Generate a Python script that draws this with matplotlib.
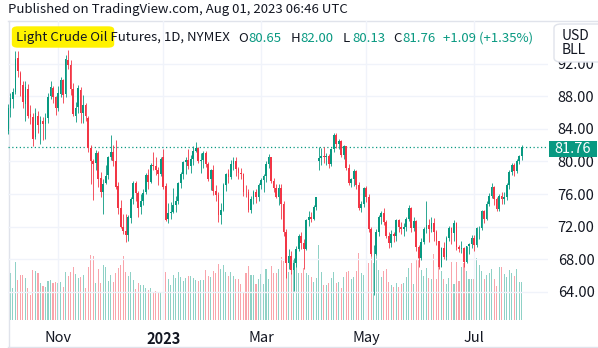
import numpy as np
import pandas as pd
import matplotlib.pyplot as plt
from matplotlib.patches import Rectangle, FancyBboxPatch
from matplotlib.lines import Line2D

plt.rcParams['font.family'] = ['Noto Sans CJK JP', 'DejaVu Sans']

# NYMEX CL front month, daily bars Oct 2022 - Jul 2023
holidays = ['2022-11-24', '2022-12-26', '2023-01-02', '2023-01-16', '2023-02-20',
            '2023-04-07', '2023-05-29', '2023-06-19', '2023-07-04']
dates = pd.bdate_range('2022-10-03', '2023-07-31', freq='C', holidays=holidays)

opens = [
    79.9, 83.7, 86.5, 87.6, 88.5, 92.7, 90.9, 89.4, 87.0, 88.9, 85.8, 85.4, 83.0, 85.6, 84.6, 85.0, 84.6, 85.3, 88.0, 89.0, 87.9,
    86.6, 88.3, 90.0, 88.3, 92.4, 91.8, 88.9, 85.6, 86.7, 88.8, 85.9, 86.9, 85.3, 81.7, 80.0, 79.8, 81.0, 78.0, 76.2, 77.3, 78.3,
    80.6, 81.2, 80.0, 77.0, 74.3, 72.0, 71.5, 71.0, 73.1, 75.4, 77.3, 76.1, 74.4, 75.2, 76.2, 78.3, 77.5, 79.6, 79.5, 79.0, 78.4,
    80.6, 77.0, 72.9, 73.7, 73.8, 74.6, 75.1, 77.4, 78.4, 79.9, 80.2, 79.5, 80.3, 81.3, 81.6, 80.1, 80.2, 81.0, 79.7, 77.9,
    78.9, 76.4, 75.9, 73.4, 74.1, 77.1, 78.5, 78.1, 79.7, 80.1, 79.1, 78.6, 78.5, 76.3, 76.2, 74.0, 75.4, 76.3, 75.7,
    77.1, 77.7, 78.2, 79.7, 80.5, 77.6, 76.7, 75.7, 76.7, 74.8, 71.3, 67.6, 68.4, 66.7, 67.6, 69.3, 70.9, 70.0, 69.3, 72.8, 73.2, 73.0, 74.4,
    80.1, 80.4, 80.7, 80.6, 80.7, 79.7, 81.5, 83.3, 82.2, 82.5, 80.8, 81.9, 79.2, 77.4, 77.9, 78.8, 77.1, 74.3, 74.8,
    76.7, 75.7, 71.7, 68.6, 68.6, 71.3, 73.2, 73.7, 72.6, 70.9, 70.0, 71.1, 70.9, 72.8, 71.9, 71.7, 72.0, 72.9, 74.3, 71.8, 72.7, 69.5,
    68.1, 70.1, 71.7, 72.2, 71.7, 72.5, 71.3, 70.2, 67.1, 69.4, 68.3, 70.6, 71.8, 71.2, 72.5, 69.5, 69.2, 69.4, 67.7, 69.6, 69.9,
    70.6, 69.8, 71.8, 71.8, 73.9, 73.0, 74.8, 75.8, 76.9, 75.4, 74.2, 75.8, 75.4, 75.6, 77.1, 78.7, 79.6, 78.8, 80.1, 80.65,
]
highs = [
    84.0, 87.0, 88.4, 89.0, 93.6, 93.5, 91.1, 89.9, 89.9, 89.5, 86.9, 85.9, 86.5, 86.2, 85.6, 85.5, 86.0, 88.4, 89.9, 89.2, 88.0,
    89.3, 90.3, 90.1, 93.0, 93.7, 92.4, 89.6, 87.3, 89.4, 89.1, 88.2, 87.2, 85.6, 82.0, 80.3, 81.4, 81.3, 78.7, 77.9, 79.6, 80.7,
    83.3, 82.0, 82.6, 77.5, 75.3, 73.5, 73.6, 73.4, 75.7, 77.6, 77.6, 76.4, 76.0, 76.6, 78.6, 79.1, 79.8, 81.2, 80.6, 79.3, 80.5,
    81.5, 77.4, 74.9, 75.0, 76.7, 75.8, 77.5, 78.7, 80.1, 80.6, 81.5, 80.8, 81.9, 82.4, 81.8, 81.0, 81.3, 81.3, 79.9, 79.1,
    79.6, 77.1, 76.3, 74.9, 77.4, 78.6, 79.1, 80.2, 80.6, 80.5, 79.3, 79.2, 78.6, 77.1, 76.6, 75.8, 76.5, 76.6, 77.4,
    78.0, 78.5, 80.1, 80.9, 80.6, 78.0, 77.2, 77.2, 77.2, 75.1, 71.7, 69.2, 69.0, 68.1, 69.6, 71.1, 71.4, 70.5, 73.0, 73.9, 73.8, 74.7, 75.7,
    81.8, 81.6, 81.8, 81.0, 80.9, 81.6, 83.5, 83.5, 82.8, 82.6, 82.0, 81.9, 79.7, 78.0, 79.1, 79.0, 77.5, 75.1, 76.9,
    77.0, 76.0, 72.0, 69.8, 71.7, 73.4, 73.9, 74.3, 72.8, 71.4, 71.6, 71.4, 73.0, 72.9, 72.6, 72.4, 73.2, 74.7, 74.4, 73.2, 72.8, 69.8,
    70.6, 72.0, 75.1, 72.9, 73.2, 73.1, 71.6, 70.3, 69.5, 70.1, 70.8, 72.1, 71.9, 72.8, 72.6, 69.8, 70.2, 69.5, 69.6, 70.0, 71.0,
    71.0, 72.0, 72.1, 74.0, 74.0, 75.1, 76.1, 77.3, 77.0, 75.7, 76.0, 76.3, 76.2, 77.3, 78.9, 79.8, 79.8, 80.3, 80.8, 82.00,
]
lows = [
    79.8, 83.4, 85.5, 86.5, 88.3, 90.4, 88.0, 86.5, 85.0, 85.3, 84.6, 81.9, 82.7, 83.5, 82.1, 82.6, 82.8, 84.7, 87.6, 87.2, 85.7,
    86.2, 87.9, 87.2, 87.9, 91.3, 88.1, 85.6, 84.9, 85.9, 84.7, 84.7, 85.0, 81.1, 77.2, 75.3, 79.0, 76.9, 75.7, 73.6, 77.2, 77.9,
    80.2, 79.5, 76.6, 73.6, 71.8, 71.1, 70.1, 70.3, 72.4, 74.8, 75.2, 73.2, 73.6, 74.6, 76.0, 76.6, 77.4, 78.9, 78.3, 77.1, 78.2,
    76.6, 72.7, 72.5, 72.9, 73.7, 73.8, 74.8, 76.8, 77.9, 78.5, 79.1, 78.6, 79.6, 81.1, 79.8, 78.6, 79.2, 79.3, 77.6, 76.5,
    75.9, 75.2, 72.6, 72.3, 73.9, 76.4, 77.3, 77.9, 78.9, 78.2, 77.9, 77.8, 75.8, 75.6, 73.8, 73.7, 74.8, 74.9, 75.1,
    76.6, 76.2, 77.5, 79.2, 77.4, 76.3, 75.5, 74.7, 73.0, 70.9, 65.7, 66.8, 66.2, 64.1, 67.1, 69.0, 69.2, 66.8, 69.1, 72.1, 72.6, 72.8, 74.1,
    79.0, 79.6, 79.8, 79.6, 79.2, 79.5, 81.2, 81.7, 81.5, 80.5, 80.3, 78.9, 77.1, 76.9, 77.0, 76.6, 74.0, 73.8, 74.4,
    75.0, 71.4, 68.4, 63.6, 68.5, 70.9, 72.3, 72.2, 70.6, 69.4, 69.5, 70.1, 70.2, 71.4, 71.1, 70.8, 71.5, 72.7, 71.3, 71.5, 69.0, 67.0,
    67.9, 69.9, 71.2, 70.1, 71.3, 70.3, 69.8, 66.8, 67.1, 68.0, 67.9, 70.3, 69.9, 70.3, 69.1, 68.9, 68.8, 67.1, 67.6, 68.6, 69.4,
    69.0, 69.5, 70.5, 71.6, 72.4, 72.8, 74.5, 75.5, 74.6, 73.9, 73.9, 74.8, 74.8, 75.3, 76.6, 78.3, 78.2, 78.6, 79.7, 80.13,
]
closes = [
    83.6, 86.5, 87.8, 88.5, 92.6, 91.1, 89.4, 87.3, 89.1, 85.6, 85.5, 82.8, 86.0, 84.5, 85.1, 84.6, 85.3, 87.9, 89.1, 87.9, 86.5,
    88.4, 90.0, 88.2, 92.6, 91.8, 88.9, 85.8, 86.5, 89.0, 85.9, 86.9, 85.6, 81.6, 80.1, 79.7, 81.0, 77.9, 76.3, 77.2, 78.2, 80.6,
    81.2, 80.0, 76.9, 74.3, 72.0, 71.5, 71.0, 73.2, 75.4, 77.3, 76.1, 74.3, 75.2, 76.1, 78.3, 77.5, 79.6, 79.5, 79.0, 78.4, 80.3,
    76.9, 72.8, 73.7, 73.8, 74.6, 75.1, 77.4, 78.4, 79.9, 80.2, 79.5, 80.3, 81.3, 81.6, 80.1, 80.2, 81.0, 79.7, 77.9, 78.9,
    76.4, 75.9, 73.4, 74.1, 77.1, 78.5, 78.1, 79.7, 80.1, 79.1, 78.6, 78.5, 76.3, 76.2, 74.0, 75.4, 76.3, 75.7, 77.1,
    77.7, 78.2, 79.7, 80.5, 77.6, 76.7, 75.7, 76.7, 74.8, 71.3, 67.6, 68.4, 66.7, 67.6, 69.3, 70.9, 70.0, 69.3, 72.8, 73.2, 73.0, 74.4, 75.7,
    80.4, 80.7, 80.6, 80.7, 79.7, 81.5, 83.3, 82.2, 82.5, 80.8, 81.9, 79.2, 77.4, 77.9, 78.8, 77.1, 74.3, 74.8, 76.8,
    75.7, 71.7, 68.6, 68.6, 71.3, 73.2, 73.7, 72.6, 70.9, 70.0, 71.1, 70.9, 72.8, 71.9, 71.7, 72.0, 72.9, 74.3, 71.8, 72.7, 69.5, 68.1,
    70.1, 71.7, 72.2, 71.7, 72.5, 71.3, 70.2, 67.1, 69.4, 68.3, 70.6, 71.8, 71.2, 72.5, 69.5, 69.2, 69.4, 67.7, 69.6, 69.9, 70.6,
    69.8, 71.8, 71.8, 73.9, 73.0, 74.8, 75.8, 76.9, 75.4, 74.2, 75.8, 75.4, 75.6, 77.1, 78.7, 79.6, 78.8, 80.1, 80.67, 81.76,
]
# volume, thousand contracts
volumes = [
    300, 330,
    235, 160, 290, 200, 225, 225, 210, 160, 125, 250, 245, 235, 185, 170, 165, 195, 200, 185, 190, 185,
    190, 165, 240, 220, 240, 265, 230, 210, 215, 225, 160, 265, 325, 320, 185, 255, 185, 275, 265, 195,
    225, 190, 235, 260, 275, 320, 240, 220, 240, 200,
    155, 185, 175, 175, 160, 150, 160, 140, 145, 140, 140, 235, 240, 205, 175, 225, 210, 240, 215, 195,
    210, 220, 220, 210, 200, 195, 200, 200, 250, 220, 215, 245, 235, 280, 255, 275, 240, 220, 240, 220,
    205, 205, 180, 140, 235, 270, 225, 225, 180, 205, 230, 180, 255, 205,
    270, 235, 235, 255, 315, 295, 320, 240, 235, 300, 315, 235, 235, 260, 235, 225, 215, 190, 210, 375,
    240, 175, 175, 185, 210, 240, 185, 190, 160, 215, 240, 245, 205, 215, 245, 335, 235, 225, 150, 285,
    330, 285, 335, 250, 215, 245, 255, 190, 175, 165, 185, 165, 180, 185,
    215, 260, 285, 180, 300, 335, 250, 220, 260, 210, 205, 330, 205, 310, 245, 205, 180, 210, 290, 180,
    290, 195, 265, 285, 245, 205, 205, 205, 310, 275, 245, 205, 225, 235, 255, 205, 170, 265, 265, 230,
    215, 250, 235, 220, 255, 190, 190,
]

last_price = 81.76
tick_prices = [64, 68, 72, 76, 80, 84, 88, 92]
tick_dates = ['2022-11-01', '2023-01-03', '2023-03-01', '2023-05-01', '2023-07-03']
tick_names = ['Nov', '2023', 'Mar', 'May', 'Jul']

UP = '#089981'
DOWN = '#f23645'
TEXT = '#131722'
GRID = '#f0f3fa'
FRAME = '#e0e3eb'

o = np.array(opens)
h = np.array(highs)
l = np.array(lows)
c = np.array(closes)
v = np.array(volumes)
idx = np.arange(len(dates))
up = c >= o
cols = np.where(up, UP, DOWN)

W, H = 598, 348
fig = plt.figure(figsize=(W / 100, H / 100), dpi=100)
fig.patch.set_facecolor('white')

rect = [8 / W, (H - 320) / H, 540 / W, 299 / H]
vax = fig.add_axes(rect, zorder=1)
ax = fig.add_axes(rect, zorder=2)
ax.patch.set_visible(False)

# volume pane underneath the candles
vax.bar(idx, v, width=0.42, color=cols, alpha=0.45, linewidth=0)
vax.set_ylim(0, 1495)
vax.set_axis_off()

# candles
ax.vlines(idx, l, h, colors=cols, linewidth=0.6, zorder=3)
body = np.maximum(np.abs(c - o), 0.08)
ax.bar(idx, body, bottom=np.minimum(o, c), width=0.72, color=cols, linewidth=0, zorder=4)

ax.axhline(last_price, color=UP, linestyle=(0, (1, 2)), linewidth=0.9, zorder=2)

x_left = (8 - 5.4) / 2.506
x_right = (548 - 5.4) / 2.506
for a in (ax, vax):
    a.set_xlim(x_left, x_right)
ax.set_ylim(60.55, 97.23)

tick_idx = [dates.get_loc(pd.Timestamp(d)) for d in tick_dates]
ax.set_xticks(tick_idx)
ax.set_xticklabels(tick_names)
ax.set_yticks(tick_prices)
ax.set_yticklabels([f'{p:.2f}' for p in tick_prices])
ax.yaxis.tick_right()
ax.tick_params(axis='y', length=0, pad=7, labelsize=10.5, labelcolor=TEXT)
ax.tick_params(axis='x', length=0, pad=8, labelsize=10.5, labelcolor=TEXT)
ax.get_xticklabels()[1].set_fontweight('bold')
ax.grid(True, color=GRID, linewidth=1, zorder=0)
ax.set_axisbelow(True)
for s in ax.spines.values():
    s.set_visible(False)


def px(x, y):
    return x / W, 1 - y / H


# frame lines
for (x0, y0), (x1, y1) in [((8.5, 21), (8.5, 347)), ((8, 21), (598, 21)), ((8, 347), (598, 347))]:
    fig.add_artist(Line2D([x0 / W, x1 / W], [1 - y0 / H, 1 - y1 / H], color=FRAME, linewidth=1))

fig.text(*px(8, 10), 'Published on TradingView.com, Aug 01, 2023 06:46 UTC',
         fontsize=9.5, color=TEXT, va='center', ha='left')

# highlighter stroke behind the symbol name
fig.add_artist(FancyBboxPatch(px(13, 47), 100 / W, 20 / H, boxstyle='round,pad=0.002,rounding_size=0.01',
                              facecolor='#fff200', edgecolor='none', zorder=5))
fig.text(*px(16, 38), 'Light Crude Oil Futures, 1D, NYMEX', fontsize=9.5, color=TEXT,
         va='center', ha='left', zorder=6)
legend = [(238, 'O', TEXT), (248, '80.65', UP), (291, 'H', TEXT), (300, '82.00', UP),
          (343, 'L', TEXT), (352, '80.13', UP), (393, 'C', TEXT), (402, '81.76', UP),
          (443, '+1.09 (+1.35%)', UP)]
for x, s, col in legend:
    fig.text(*px(x, 38), s, fontsize=9.5, color=col, va='center', ha='left', zorder=6)

# currency / unit box on the price scale, sitting over the top price label
fig.add_artist(FancyBboxPatch(px(554, 62), 60 / W, 38 / H, boxstyle='round,pad=0,rounding_size=0.012',
                              facecolor='white', edgecolor=FRAME, linewidth=1, zorder=10))
fig.text(*px(562, 36), 'USD', fontsize=10, color=TEXT, va='center', ha='left', zorder=11)
fig.text(*px(562, 50), 'BLL', fontsize=10, color=TEXT, va='center', ha='left', zorder=11)

# last price tag
fig.add_artist(Rectangle(px(549, 157), 48 / W, 16 / H, facecolor=UP, edgecolor='none', zorder=10))
fig.text(*px(573, 149), f'{last_price:.2f}', fontsize=10.5, color='white', va='center', ha='center', zorder=11)

fig.savefig('out.png', dpi=100)
